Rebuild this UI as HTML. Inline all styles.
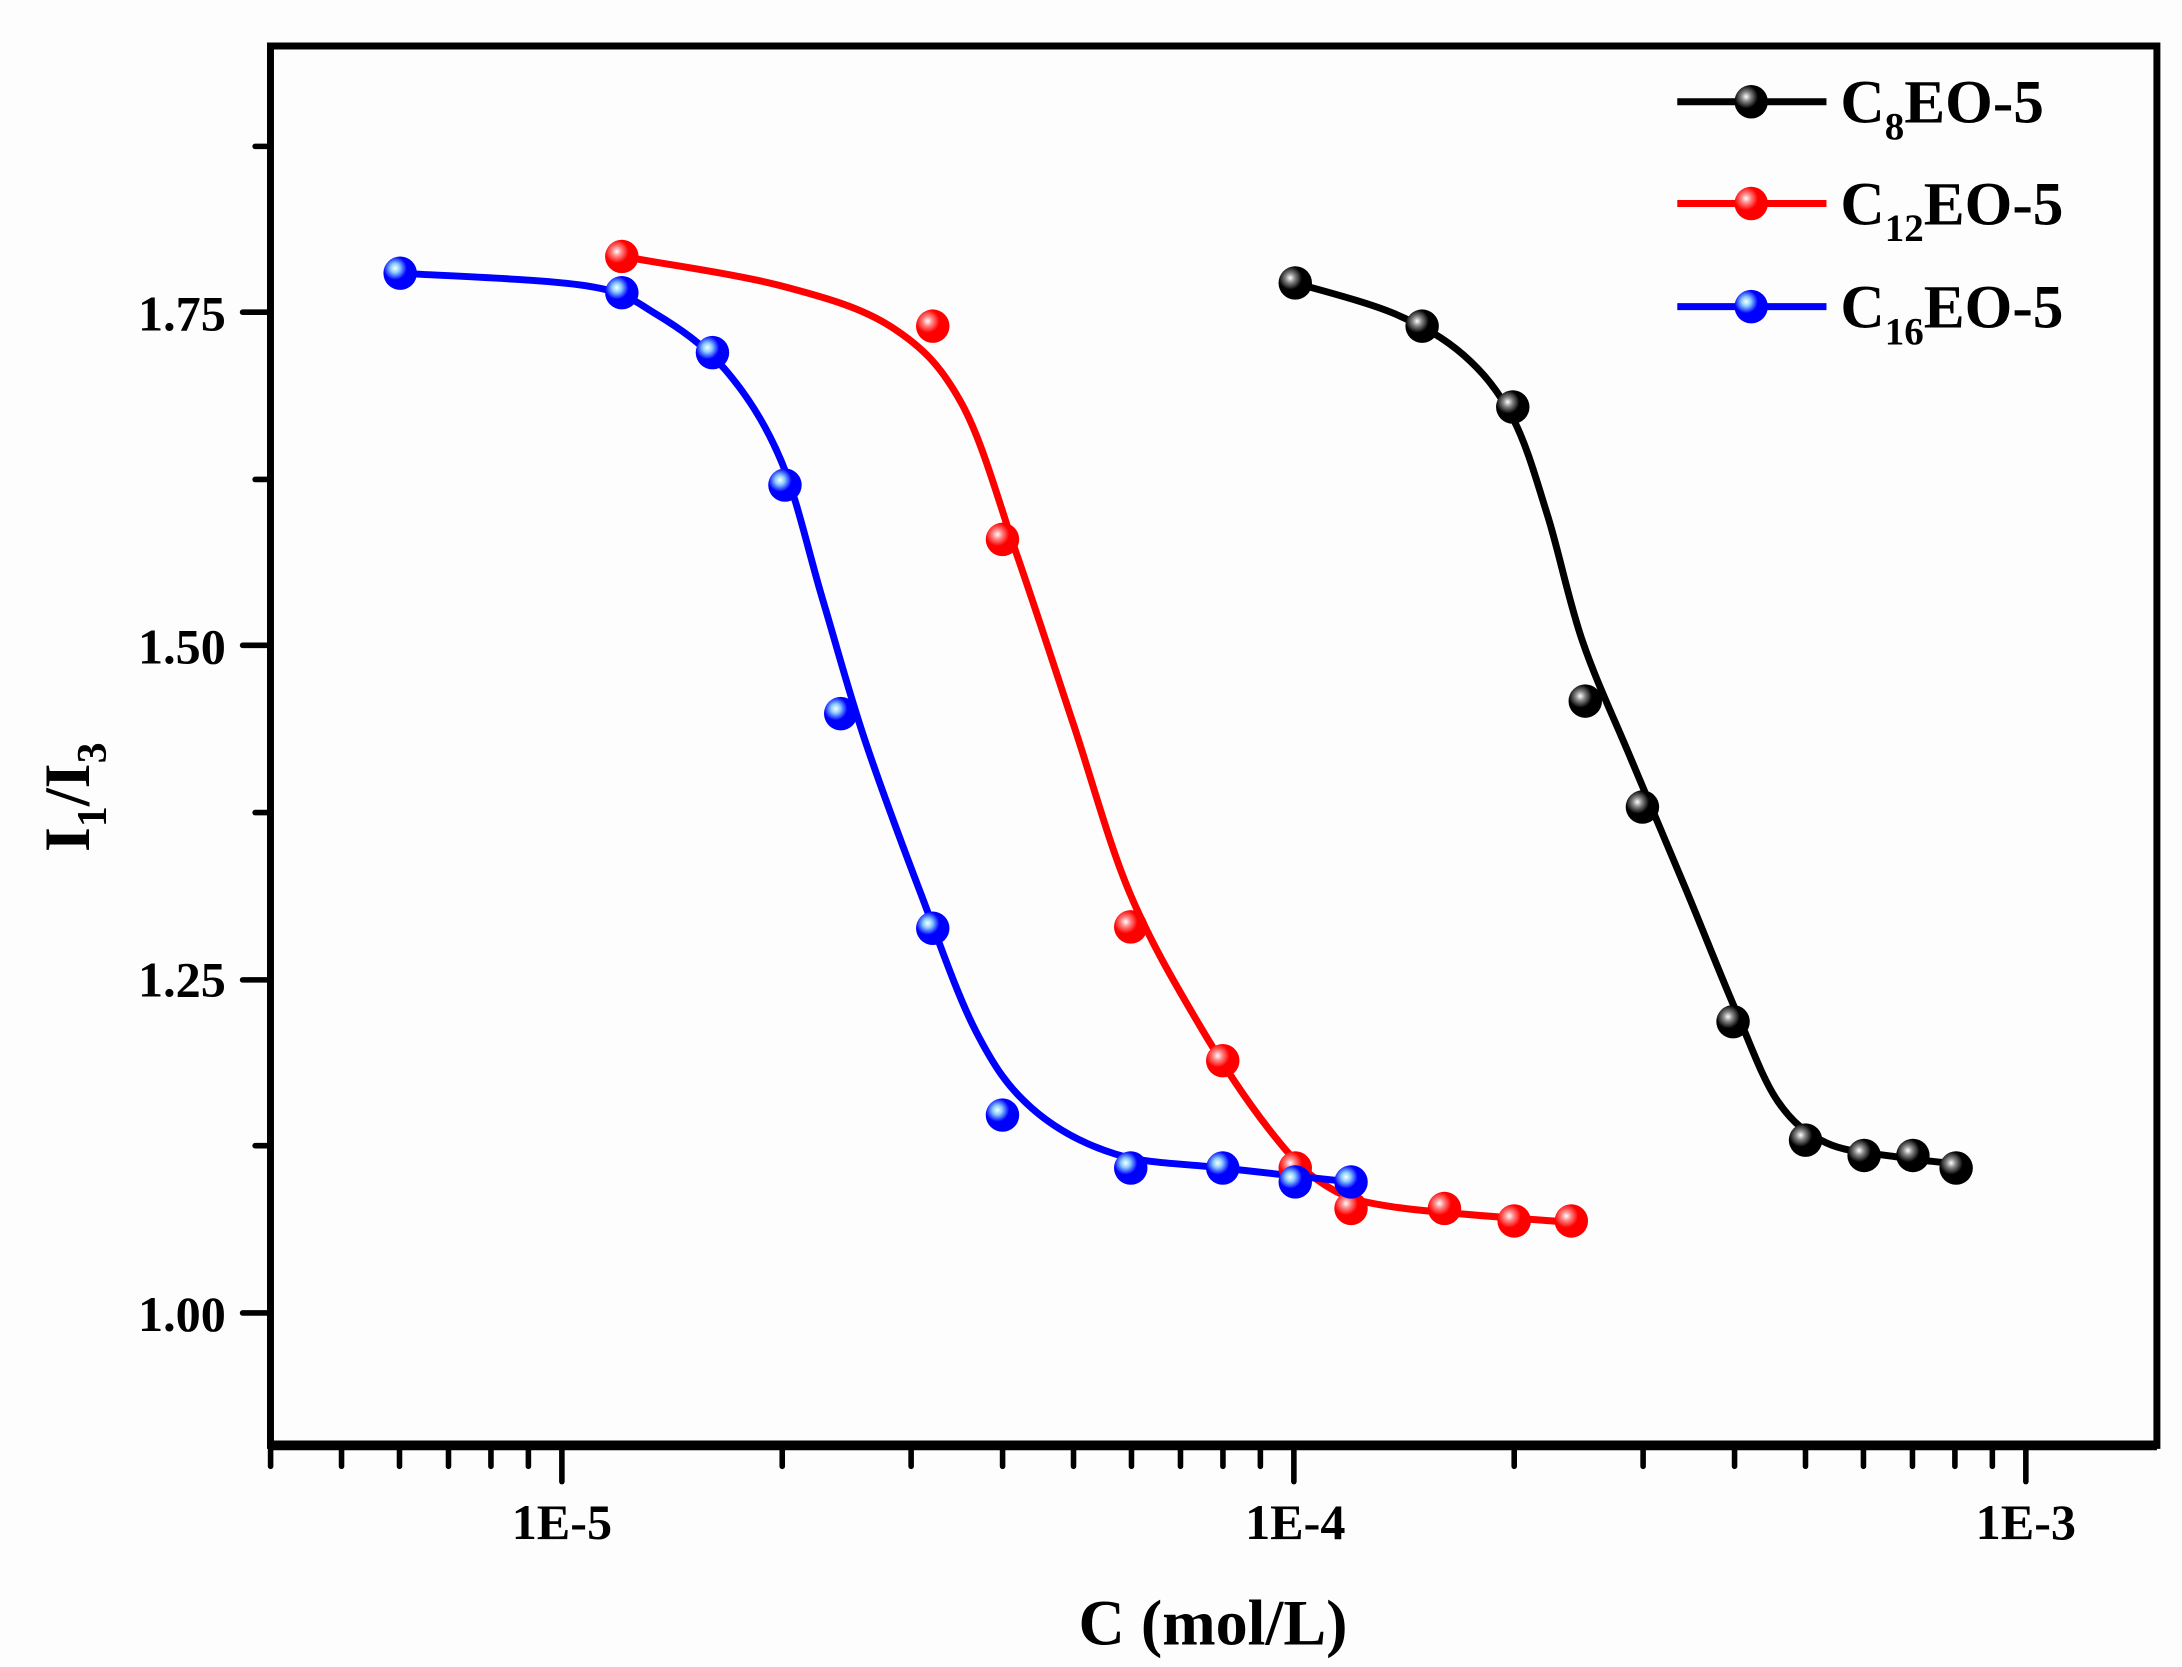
<!DOCTYPE html>
<html><head><meta charset="utf-8"><style>
html,body{margin:0;padding:0;background:#fdfdfd;}
svg{display:block;}
text{font-family:"Liberation Serif",serif;font-weight:bold;fill:#000;}
</style></head><body>
<svg id="s" width="2182" height="1667" viewBox="0 0 1565 1196" preserveAspectRatio="none" xmlns="http://www.w3.org/2000/svg">
<defs>
<radialGradient id="gk" cx="0.35" cy="0.35" r="0.7"><stop offset="0" stop-color="#fff"/><stop offset="0.2" stop-color="#888"/><stop offset="0.5" stop-color="#000"/></radialGradient>
<radialGradient id="gr" cx="0.35" cy="0.35" r="0.7"><stop offset="0" stop-color="#fff"/><stop offset="0.2" stop-color="#f88"/><stop offset="0.5" stop-color="#f00"/></radialGradient>
<radialGradient id="gb" cx="0.35" cy="0.35" r="0.7"><stop offset="0" stop-color="#fff"/><stop offset="0.2" stop-color="#8cf"/><stop offset="0.5" stop-color="#00f"/></radialGradient>
</defs>
<rect x="0" y="0" width="1565" height="1196" fill="#fdfdfd"/>
<g id="axes" stroke="#000" fill="none">
<rect x="194" y="33" width="1353" height="1004" stroke-width="5"/>
<line x1="194" y1="1037" x2="1547" y2="1037" stroke-width="7"/>
</g>
<g id="ticks" stroke="#000" stroke-width="4" stroke-linecap="round"></g>
<g font-size="36">
<text x="162" y="237" text-anchor="end">1.75</text>
<text x="162" y="476" text-anchor="end">1.50</text>
<text x="162" y="715" text-anchor="end">1.25</text>
<text x="162" y="955" text-anchor="end">1.00</text>
<text x="403" y="1104" text-anchor="middle">1E-5</text>
<text x="929" y="1104" text-anchor="middle">1E-4</text>
<text x="1453" y="1104" text-anchor="middle">1E-3</text>
</g>
<text x="870" y="1180" font-size="46" text-anchor="middle">C (mol/L)</text>
<text transform="translate(64,572) rotate(-90)" font-size="46" text-anchor="middle">I<tspan font-size="30" dy="12">1</tspan><tspan dy="-12">/I</tspan><tspan font-size="30" dy="12">3</tspan></text>
<g id="curves" fill="none" stroke-width="5" stroke-linecap="round"></g>
<g id="marks"></g>
<g font-size="44">
<line x1="1203" y1="73" x2="1310" y2="73" stroke="#000" stroke-width="5"/>
<line x1="1203" y1="146" x2="1310" y2="146" stroke="#f00" stroke-width="5"/>
<line x1="1203" y1="220" x2="1310" y2="220" stroke="#00f" stroke-width="5"/>
<circle cx="1256" cy="73" r="12" fill="url(#gk)"/>
<circle cx="1256" cy="146" r="12" fill="url(#gr)"/>
<circle cx="1256" cy="220" r="12" fill="url(#gb)"/>
<text x="1320" y="88">C<tspan font-size="28" dy="12">8</tspan><tspan dy="-12">EO-5</tspan></text>
<text x="1320" y="161">C<tspan font-size="28" dy="12">12</tspan><tspan dy="-12">EO-5</tspan></text>
<text x="1320" y="235">C<tspan font-size="28" dy="12">16</tspan><tspan dy="-12">EO-5</tspan></text>
</g>
</svg>
<script>
var NS="http://www.w3.org/2000/svg";
function el(p,t,a){var e=document.createElementNS(NS,t);for(var k in a)e.setAttribute(k,a[k]);p.appendChild(e);return e;}
var tk=document.getElementById('ticks');
function X(c){return 403+525*Math.log10(c/1e-5);}
for(var d=-6;d<=-3;d++){for(var m=1;m<10;m++){var c=m*Math.pow(10,d);var x=X(c);if(x<194||x>1547)continue;
 el(tk,'line',{x1:x,y1:1040,x2:x,y2:m==1?1063:1052});}}
[105,344,583,822].forEach(function(y){el(tk,'line',{x1:194,y1:y,x2:183,y2:y});});
[224,463,703,942].forEach(function(y){el(tk,'line',{x1:194,y1:y,x2:174,y2:y});});
function cr(pts){var d="M"+pts[0][0]+","+pts[0][1];for(var i=0;i<pts.length-1;i++){var p0=pts[Math.max(0,i-1)],p1=pts[i],p2=pts[i+1],p3=pts[Math.min(pts.length-1,i+2)];
 d+=" C"+(p1[0]+(p2[0]-p0[0])/6)+","+(p1[1]+(p2[1]-p0[1])/6)+" "+(p2[0]-(p3[0]-p1[0])/6)+","+(p2[1]-(p3[1]-p1[1])/6)+" "+p2[0]+","+p2[1];}return d;}
var cv=document.getElementById('curves');
el(cv,'path',{d:cr([[929,203],[1000,225],[1050,255],[1085,300],[1110,370],[1135,460],[1170,545],[1210,640],[1245,725],[1275,790],[1310,820],[1360,830],[1403,835]]),stroke:'#000'});
el(cv,'path',{d:cr([[446,184],[560,205],[640,235],[690,290],[730,400],[770,520],[810,640],[860,735],[910,810],[950,850],[1000,866],[1127,877]]),stroke:'#f00'});
el(cv,'path',{d:cr([[287,196],[420,205],[470,225],[520,265],[560,330],[590,430],[620,530],[660,640],[700,740],[740,795],[800,828],[877,838],[969,848]]),stroke:'#00f'});
var mk=document.getElementById('marks');
function dots(pts,g){pts.forEach(function(p){el(mk,'circle',{cx:p[0],cy:p[1],r:12,fill:'url(#'+g+')'});});}
dots([[929,203],[1020,234],[1085,292],[1137,503],[1178,579],[1243,733],[1295,818],[1337,829],[1372,829],[1403,838]],'gk');
dots([[446,184],[669,234],[719,387],[811,665],[877,761],[929,838],[969,867],[1036,867],[1086,876],[1127,876]],'gr');
dots([[287,196],[446,210],[511,253],[563,348],[603,512],[669,666],[719,800],[811,838],[877,838],[929,848],[969,848]],'gb');
</script>
</body></html>
